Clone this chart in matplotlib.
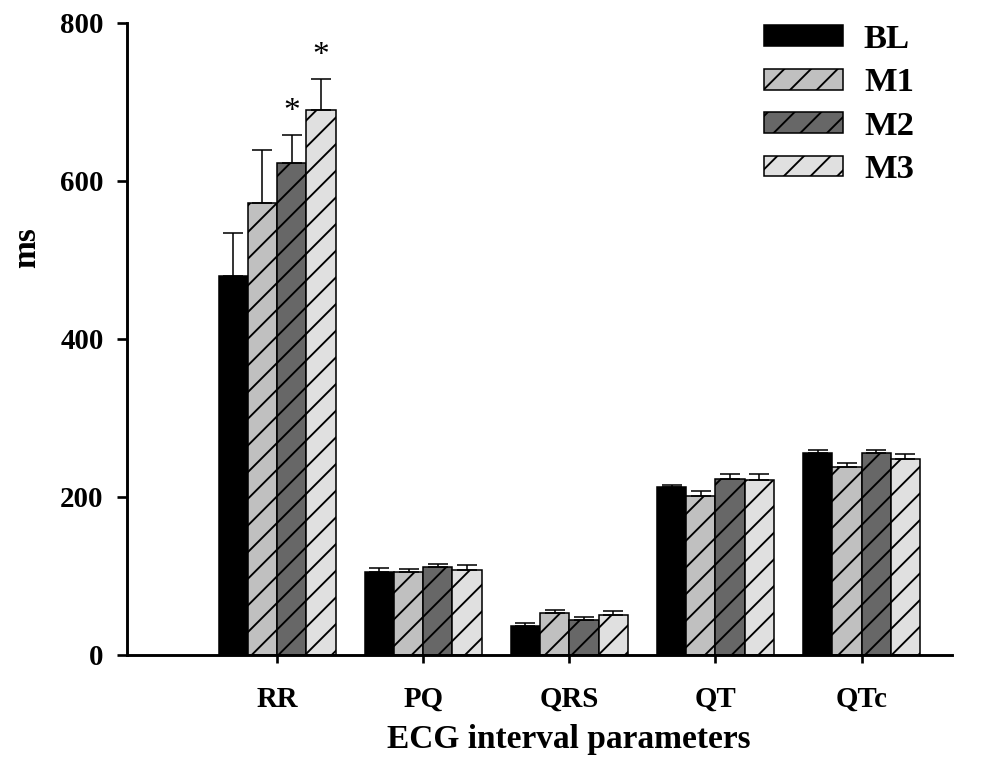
import numpy as np
import matplotlib
matplotlib.use('Agg')
import matplotlib.pyplot as plt

plt.rcParams['font.family'] = ['Liberation Serif', 'DejaVu Serif']
plt.rcParams['hatch.linewidth'] = 0.85

params = ['RR', 'PQ', 'QRS', 'QT', 'QTc']
groups = ['BL', 'M1', 'M2', 'M3']

# mean and SD (ms) per group, order follows params
mean_bl = [480, 105, 37, 212, 256]
mean_m1 = [572, 105, 53, 201, 238]
mean_m2 = [623, 111, 44, 223, 256]
mean_m3 = [690, 108, 50, 221, 248]
sd_bl = [54, 5, 3, 3, 3]
sd_m1 = [67, 4, 4, 7, 4.5]
sd_m2 = [35, 4, 4.5, 6, 3.5]
sd_m3 = [39, 6, 6, 7.5, 6]
signif_m2 = [True, False, False, False, False]
signif_m3 = [True, False, False, False, False]

means = [mean_bl, mean_m1, mean_m2, mean_m3]
sds = [sd_bl, sd_m1, sd_m2, sd_m3]
colors = ['black', '#c0c0c0', '#676767', '#e0e0e0']
hatches = [None, '//', '//', '//']

fig = plt.figure(figsize=(6.225, 4.85), dpi=160)
ax = fig.add_axes([0.1275, 0.156, 0.8285, 0.8148])

x = np.arange(len(params))
w = 0.2
offsets = [-0.3, -0.1, 0.1, 0.3]
for i, g in enumerate(groups):
    ax.bar(x + offsets[i], means[i], w, color=colors[i], edgecolor='black', linewidth=0.7,
           hatch=hatches[i], label=g,
           yerr=[np.zeros(len(params)), sds[i]], capsize=4.5,
           error_kw=dict(elinewidth=0.7, capthick=0.7, ecolor='black'))

# significance marks above the error bars
for i, flags in [(2, signif_m2), (3, signif_m3)]:
    for j, f in enumerate(flags):
        if f:
            ax.text(x[j] + offsets[i], means[i][j] + sds[i][j] + 10, '*', ha='center', va='bottom',
                    fontsize=15)

ax.set_xlim(-1.027, 4.62)
ax.set_ylim(0, 800)
ax.set_yticks([0, 200, 400, 600, 800])
ax.set_xticks(x)
ax.set_xticklabels(params)
for s in ['top', 'right']:
    ax.spines[s].set_visible(False)
for s in ['left', 'bottom']:
    ax.spines[s].set_linewidth(1.3)
ax.tick_params(axis='y', direction='out', length=4.5, width=1.2, pad=6, labelsize=13)
ax.tick_params(axis='x', direction='out', length=3.5, width=1.2, pad=10.5, labelsize=13)
for lab in ax.get_xticklabels() + ax.get_yticklabels():
    lab.set_fontweight('bold')

ax.set_ylabel('ms', fontsize=15, fontweight='bold', va='center')
ax.yaxis.set_label_coords(-0.122, 0.644)
ax.set_xlabel('ECG interval parameters', fontsize=15, fontweight='bold', va='baseline')
ax.xaxis.set_label_coords(0.536, -0.147)

leg = ax.legend(loc='upper left', bbox_to_anchor=(764 / 996, 1 - 24 / 776), bbox_transform=fig.transFigure,
                frameon=False, prop=dict(size=15.5, weight='bold'), handlelength=2.3, handleheight=0.55,
                handletextpad=0.6, labelspacing=0.36, borderpad=0, borderaxespad=0)

fig.savefig('out.png', dpi=160)
